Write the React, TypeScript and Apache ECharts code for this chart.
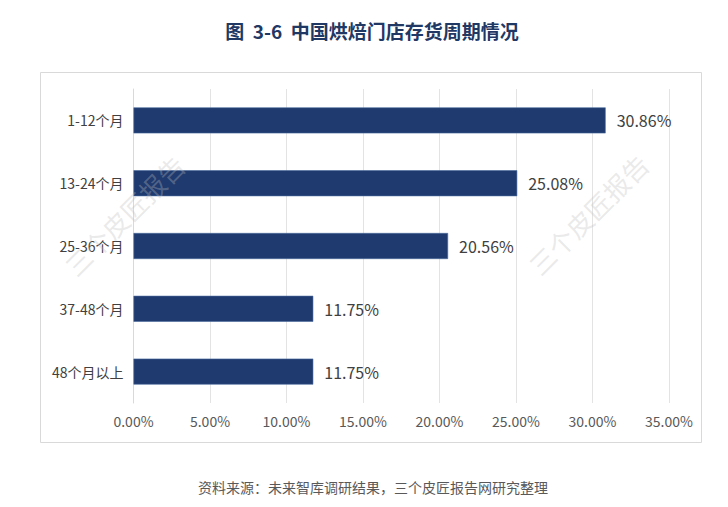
import React, { useEffect, useRef } from "react";
import * as echarts from "echarts";

const categories = ["1-12个月", "13-24个月", "25-36个月", "37-48个月", "48个月以上"];
const values = [30.86, 25.08, 20.56, 11.75, 11.75];
const titleText = "图  3-6  中国烘焙门店存货周期情况";
const sourceText = "资料来源：未来智库调研结果，三个皮匠报告网研究整理";
const watermarkText = "三个皮匠报告";

const FONT = '"Noto Sans CJK SC", "Noto Sans", sans-serif';

export default function App() {
  const ref = useRef<HTMLDivElement>(null);
  useEffect(() => {
    if (!ref.current) return;
    const chart = echarts.init(ref.current, undefined, { renderer: "svg" });
    chart.setOption({
      animation: false,
      backgroundColor: "#ffffff",
      textStyle: { fontFamily: FONT },
      graphic: [
        {
          type: "text",
          x: 372,
          y: 30,
          style: {
            text: titleText,
            fontSize: 19,
            fontWeight: "bold",
            fontFamily: FONT,
            fill: "#1F3864",
            align: "center",
            verticalAlign: "middle",
          },
        },
        {
          type: "rect",
          shape: { x: 40.5, y: 72.5, width: 661, height: 370 },
          style: { fill: "none", stroke: "#d9d9d9", lineWidth: 1 },
          z: 0,
        },
        {
          type: "text",
          x: 124,
          y: 215,
          rotation: Math.PI / 4,
          style: {
            text: watermarkText,
            fontSize: 26,
            fontFamily: FONT,
            fill: "rgba(190,190,190,0.32)",
            align: "center",
            verticalAlign: "middle",
          },
          z: 100,
        },
        {
          type: "text",
          x: 588,
          y: 214,
          rotation: Math.PI / 4,
          style: {
            text: watermarkText,
            fontSize: 26,
            fontFamily: FONT,
            fill: "rgba(190,190,190,0.32)",
            align: "center",
            verticalAlign: "middle",
          },
          z: 100,
        },
        {
          type: "text",
          x: 373,
          y: 487,
          style: {
            text: sourceText,
            fontSize: 14,
            fontFamily: FONT,
            fill: "#595959",
            align: "center",
            verticalAlign: "middle",
          },
        },
      ],
      grid: { left: 133.5, right: 59, top: 89, bottom: 104, containLabel: false },
      xAxis: {
        type: "value",
        min: 0,
        max: 35,
        interval: 5,
        axisLine: { show: false },
        axisTick: { show: false },
        splitLine: { show: true, lineStyle: { color: "#e3e3e3", width: 1 } },
        axisLabel: {
          margin: 11,
          fontSize: 14,
          color: "#595959",
          fontFamily: FONT,
          formatter: (v: number) => v.toFixed(2) + "%",
        },
      },
      yAxis: {
        type: "category",
        data: categories,
        inverse: true,
        axisLine: { show: true, lineStyle: { color: "#d9d9d9" } },
        axisTick: { show: false },
        axisLabel: { margin: 10, fontSize: 14, color: "#404040", fontFamily: FONT },
      },
      series: [
        {
          type: "bar",
          data: values,
          barWidth: 26,
          itemStyle: { color: "#1F3A6E", borderColor: "#4A6A9E", borderWidth: 0.6 },
          label: {
            show: true,
            position: "right",
            distance: 11,
            fontSize: 16,
            color: "#404040",
            fontFamily: FONT,
            formatter: (p: any) => p.value.toFixed(2) + "%",
          },
        },
      ],
    });
    return () => chart.dispose();
  }, []);
  return (
    <div
      ref={ref}
      style={{ position: "fixed", left: 0, top: 0, width: 728, height: 507 }}
    />
  );
}
